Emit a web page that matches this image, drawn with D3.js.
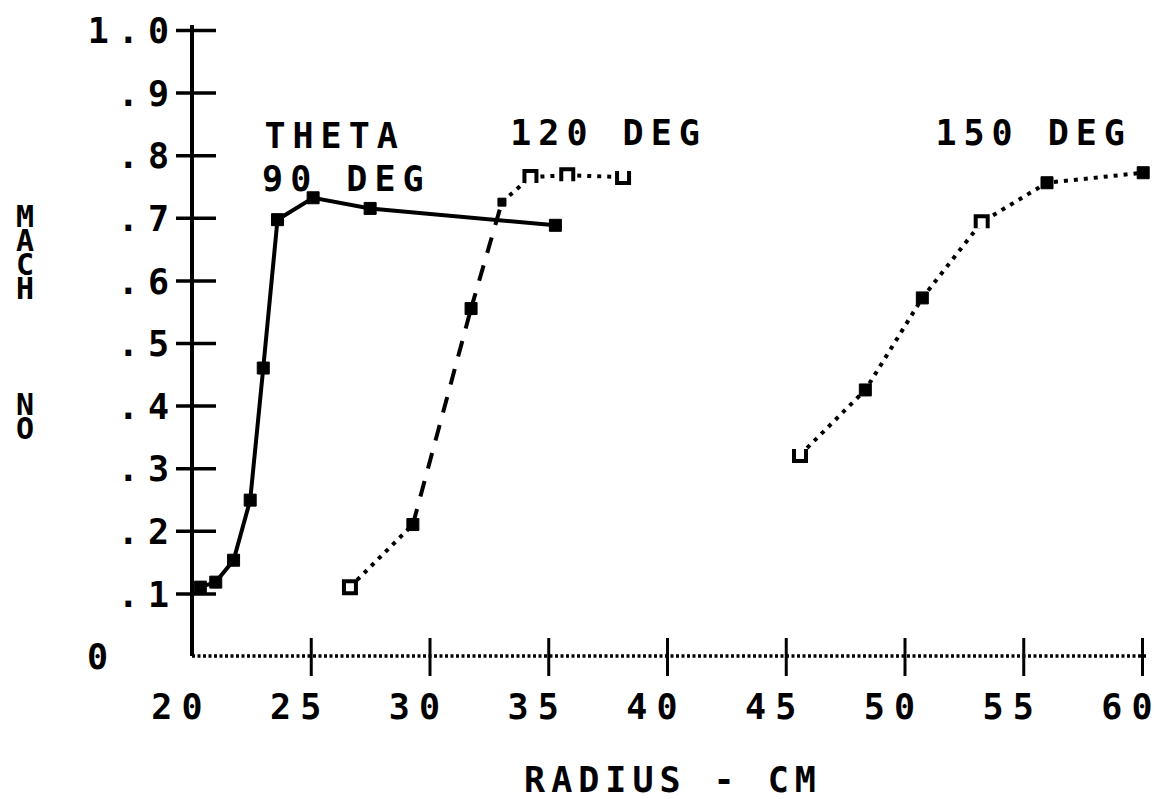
<!DOCTYPE html>
<html>
<head>
<meta charset="utf-8">
<script src="https://cdn.jsdelivr.net/npm/d3@7"></script>
<style>
  body { margin: 0; background: #fff; }
  svg text { font-family: "DejaVu Sans Mono", monospace; font-weight: bold; fill: #000; }
</style>
</head>
<body>
<div id="chart"></div>
<script>
// data
const radius90  = [20.35, 21.0, 21.75, 22.45, 23.0, 23.6, 25.1, 27.5, 35.3];
const mach90    = [0.110, 0.118, 0.153, 0.249, 0.460, 0.697, 0.732, 0.715, 0.688];
const radius120 = [26.65, 29.3, 31.75, 33.05, 34.25, 35.8, 38.15];
const mach120   = [0.110, 0.210, 0.555, 0.725, 0.765, 0.768, 0.765];
const radius150 = [45.6, 48.35, 50.75, 53.25, 56.0, 60.05];
const mach150   = [0.321, 0.425, 0.572, 0.693, 0.756, 0.772];

const xTicks = [20, 25, 30, 35, 40, 45, 50, 55, 60];
const yTicks = [0, 0.1, 0.2, 0.3, 0.4, 0.5, 0.6, 0.7, 0.8, 0.9, 1.0];

const labels = [
  { text: "THETA",   r: 23.05, m: 0.832 },
  { text: "90 DEG",  r: 22.95, m: 0.763 },
  { text: "120 DEG", r: 33.4,  m: 0.836 },
  { text: "150 DEG", r: 51.3,  m: 0.836 }
];
const yTitleWords = ["MACH", "NO"];

// plotter styling (kept apart from the values)
const segStyle120 = ["dot", "dash", "dash", "dot", "dot", "dot"];
const sym90  = radius90.map(() => "fill");
const sym120 = ["open", "fill", "fill", "small", "n", "n", "u"];
const sym150 = ["u", "fill", "fill", "n", "fill", "fill"];
const dashes = { solid: null, dot: "4,6", dash: "16,13" };

const W = 1155, H = 799;
const svg = d3.select("#chart").append("svg")
  .attr("width", W).attr("height", H);

const x = d3.scaleLinear().domain([20, 60]).range([192, 1142]);
const y = d3.scaleLinear().domain([0, 1]).range([656, 30]);

// spread characters like the plotter font, without trailing space
function spaced(sel, ls) {
  sel.attr("dx", function() {
    const n = this.textContent.length;
    return [0].concat(d3.range(n - 1).map(() => ls)).join(" ");
  });
}

// y axis
const yAxis = svg.append("g")
  .attr("transform", "translate(" + x(20) + ",0)")
  .call(d3.axisLeft(y)
    .tickValues(yTicks)
    .tickSize(0)
    .tickPadding(0)
    .tickFormat(d => d === 0 ? "0" : d === 1 ? "1.0" : "." + Math.round(d * 10)));
yAxis.select(".domain").attr("d", "M0," + y(0) + "V" + (y(1) - 5))
  .attr("stroke", "#000").attr("stroke-width", 4);
yAxis.selectAll(".tick line")
  .attr("x1", -16).attr("x2", 24)
  .attr("stroke", "#000").attr("stroke-width", 3.5)
  .filter(d => d === 0).remove();
yAxis.selectAll(".tick text")
  .attr("font-size", 35)
  .attr("text-anchor", "end")
  .attr("x", d => d === 0 ? -84 : -23)
  .attr("dy", "0.36em")
  .call(spaced, 9);

// x axis (dotted baseline)
const xAxis = svg.append("g")
  .attr("transform", "translate(0," + y(0) + ")")
  .call(d3.axisBottom(x)
    .tickValues(xTicks)
    .tickSize(0)
    .tickFormat(d3.format("d")));
xAxis.select(".domain").attr("d", "M" + x(20) + ",0H" + (x(60) + 4))
  .attr("stroke", "#000").attr("stroke-width", 3.5)
  .attr("stroke-dasharray", "3,2.5");
xAxis.selectAll(".tick line")
  .filter(d => d !== 20)
  .attr("y1", -18).attr("y2", 20)
  .attr("stroke", "#000").attr("stroke-width", 3);
xAxis.selectAll(".tick text")
  .attr("font-size", 35)
  .attr("text-anchor", "end")
  .attr("x", 10)
  .attr("y", 63)
  .attr("dy", 0)
  .call(spaced, 9);

// axis titles
svg.append("text")
  .attr("x", x(40) + 3).attr("y", 792)
  .attr("text-anchor", "middle")
  .attr("font-size", 35)
  .text("RADIUS - CM")
  .call(spaced, 6);

// stacked upright letters, one text per word
svg.append("g").selectAll("text")
  .data(yTitleWords)
  .join("text")
  .attr("x", 25)
  .attr("y", (d, i) => i === 0 ? 199 : 387)
  .attr("font-size", 30)
  .attr("letter-spacing", -11)
  .style("writing-mode", "vertical-rl")
  .style("text-orientation", "upright")
  .text(d => d);

// curves
const line = d3.line().x(d => x(d[0])).y(d => y(d[1]));
const zip = (a, b) => a.map((v, i) => [v, b[i]]);
const pts90 = zip(radius90, mach90);
const pts120 = zip(radius120, mach120);
const pts150 = zip(radius150, mach150);

const curves = svg.append("g")
  .attr("fill", "none").attr("stroke", "#000").attr("stroke-width", 4);

curves.append("path").datum(pts90).attr("d", line);

curves.selectAll(".seg120")
  .data(d3.pairs(pts120))
  .join("path")
  .attr("class", "seg120")
  .attr("d", line)
  .attr("stroke-dasharray", (d, i) => dashes[segStyle120[i]]);

curves.append("path").datum(pts150).attr("d", line)
  .attr("stroke-dasharray", dashes.dot);

// markers
function symbolPath(kind) {
  const s = 6;
  if (kind === "n") return "M" + -s + "," + s + "V" + -s + "H" + s + "V" + s;
  if (kind === "u") return "M" + -s + "," + -s + "V" + s + "H" + s + "V" + -s;
  if (kind === "small") return "M-4,-4H4V4H-4Z";
  return "M" + -s + "," + -s + "H" + s + "V" + s + "H" + -s + "Z";
}
function drawMarkers(pts, syms) {
  svg.append("g").selectAll("path")
    .data(pts)
    .join("path")
    .attr("transform", d => "translate(" + x(d[0]) + "," + y(d[1]) + ")")
    .attr("d", (d, i) => symbolPath(syms[i]))
    .attr("fill", (d, i) => syms[i] === "fill" || syms[i] === "small" ? "#000" : "#fff")
    .attr("stroke", "#000")
    .attr("stroke-width", (d, i) => syms[i] === "fill" || syms[i] === "small" ? 1 : 4);
}
drawMarkers(pts90, sym90);
drawMarkers(pts120, sym120);
drawMarkers(pts150, sym150);

// curve labels
svg.append("g").selectAll("text")
  .data(labels)
  .join("text")
  .attr("x", d => x(d.r)).attr("y", d => y(d.m))
  .attr("dy", "0.36em")
  .attr("font-size", 35)
  .text(d => d.text)
  .call(spaced, 7);
</script>
</body>
</html>
